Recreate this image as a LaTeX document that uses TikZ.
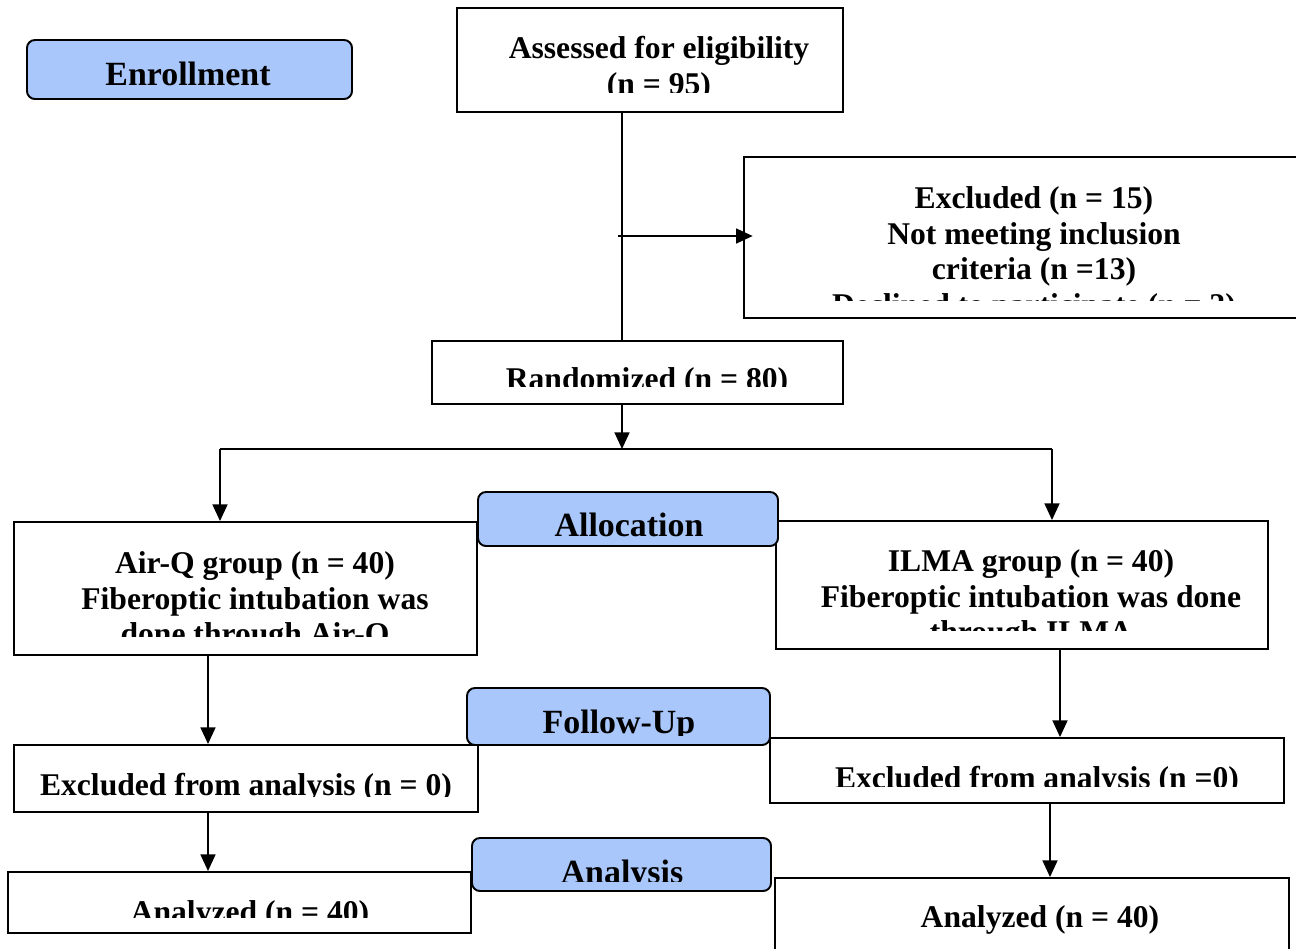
\documentclass[tikz,border=0pt]{standalone}
\usepackage{fontspec}
\setmainfont{Liberation Serif}
\usetikzlibrary{arrows.meta,fit,calc}
\definecolor{stageblue}{RGB}{169,199,251}
\begin{document}
\begin{tikzpicture}[x=0.02cm,y=-0.02cm,
  wbox/.style={draw=black, line width=1.1pt, fill=white, inner sep=0pt},
  stage/.style={draw=black, line width=1.1pt, fill=stageblue, rounded corners=4.5pt, inner sep=0pt},
  lbl/.style={font=\bfseries\fontsize{18}{20.4}\selectfont, align=center, inner sep=0pt, anchor=north},
  slbl/.style={font=\bfseries\fontsize{19.3}{22}\selectfont, align=center, inner sep=0pt, anchor=north},
  conn/.style={line width=1.1pt},
  arr/.style={line width=1.1pt, -{Triangle[length=9.5pt,width=8.5pt]}}]
\clip (0,0) rectangle (1296,948);
\fill[white] (0,0) rectangle (1296,948);

% white boxes
\node[wbox, fit={(457,8) (843,112)}] (assess) {};
\node[wbox, fit={(744,157) (1304,318)}] (excl) {};
\node[wbox, fit={(432,341) (843,404)}] (rand) {};
\node[wbox, fit={(14,522) (477,655)}] (airq) {};
\node[wbox, fit={(776,521) (1268,649)}] (ilma) {};
\node[wbox, fit={(14,745) (478,812)}] (exl) {};
\node[wbox, fit={(770,738) (1284,803)}] (exr) {};
\node[wbox, fit={(8,872) (471,933)}] (anl) {};
\node[wbox, fit={(775,878) (1289,960)}] (anr) {};

% texts (clipped as in the original)
\begin{scope}\clip (457,8) rectangle (843,92);
\node[lbl] (assesst) at (659,36) {Assessed for eligibility\\(n = 95)};\end{scope}
\begin{scope}\clip (744,157) rectangle (1296,300);
\node[lbl] (exclt) at (1034,186) {Excluded (n = 15)\\Not meeting inclusion\\criteria (n =13)\\Declined to participate (n = 2)};\end{scope}
\begin{scope}\clip (432,341) rectangle (843,386);
\node[lbl] (randt) at (647,367) {Randomized (n = 80)};\end{scope}
\begin{scope}\clip (14,522) rectangle (477,636);
\node[lbl] (airqt) at (255,551) {Air-Q group (n = 40)\\Fiberoptic intubation was\\done through Air-Q};\end{scope}
\begin{scope}\clip (776,521) rectangle (1268,630);
\node[lbl] (ilmat) at (1031,549) {ILMA group (n = 40)\\Fiberoptic intubation was done\\through ILMA};\end{scope}
\begin{scope}\clip (14,745) rectangle (478,796);
\node[lbl] (exlt) at (246,773) {Excluded from analysis (n = 0)};\end{scope}
\begin{scope}\clip (770,738) rectangle (1284,786);
\node[lbl] (exrt) at (1037,766) {Excluded from analysis (n =0)};\end{scope}
\begin{scope}\clip (8,872) rectangle (471,917);
\node[lbl] (anlt) at (250,900) {Analyzed (n = 40)};\end{scope}
\node[lbl] (anrt) at (1040,905) {Analyzed (n = 40)};

% connectors
\coordinate (spine) at (622,0);
\coordinate (branch) at (618,236);
\coordinate (splitL) at (220,449);
\coordinate (splitR) at (1052,449);
\coordinate (colL) at (208,0);
\coordinate (colR1) at (1060,0);
\coordinate (colR2) at (1050,0);
\draw[conn] (spine |- assess.south) -- (spine |- rand.north);
\draw[arr, shorten >=-5.5pt] (branch) -- (branch -| excl.west);
\draw[arr] (spine |- rand.south) -- (spine |- splitL);
\draw[conn] (splitL) -- (splitR);
\draw[arr] (splitL) -- (splitL |- airq.north);
\draw[arr] (splitR) -- (splitR |- ilma.north);
\draw[arr] (colL |- airq.south) -- (colL |- exl.north);
\draw[arr] (colL |- exl.south) -- (colL |- anl.north);
\draw[arr] (colR1 |- ilma.south) -- (colR1 |- exr.north);
\draw[arr] (colR2 |- exr.south) -- (colR2 |- anr.north);

% stage boxes
\node[stage, fit={(27,40) (352,99)}] (enroll) {};
\node[slbl] (enrollt) at (188,62) {Enrollment};
\node[stage, fit={(478,492) (778,546)}] (alloc) {};
\begin{scope}\clip (478,492) rectangle (778,537);
\node[slbl] (alloct) at (629,513) {Allocation};\end{scope}
\node[stage, fit={(467,688) (770,745)}] (follow) {};
\begin{scope}\clip (467,688) rectangle (770,735);
\node[slbl] (followt) at (619,710) {Follow-Up};\end{scope}
\node[stage, fit={(472,838) (771,891)}] (analysis) {};
\begin{scope}\clip (472,838) rectangle (771,881);
\node[slbl] (analysist) at (622,860) {Analysis};\end{scope}
\end{tikzpicture}
\end{document}
